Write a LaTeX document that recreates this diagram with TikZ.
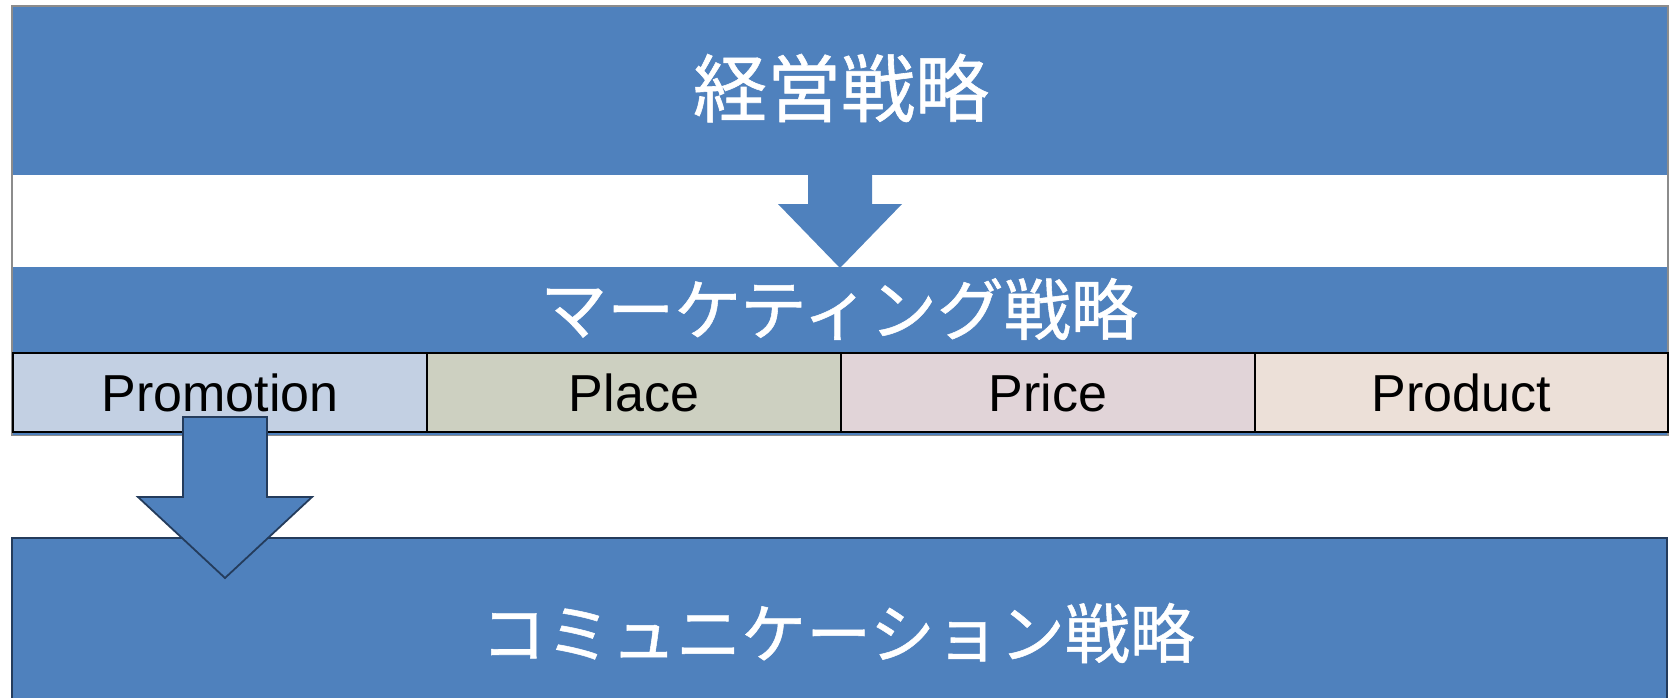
\documentclass[tikz,border=0pt]{standalone}
\usepackage{fontspec}
\setmainfont{Liberation Sans}
\newfontfamily\jpfont[FakeBold=0.8]{Noto Sans CJK JP}
\definecolor{ofblue}{RGB}{79,129,189}
\definecolor{navy}{RGB}{36,60,92}
\definecolor{framegray}{RGB}{140,140,140}
\definecolor{cpromo}{RGB}{195,208,227}
\definecolor{cplace}{RGB}{205,208,193}
\definecolor{cprice}{RGB}{225,212,216}
\definecolor{cprod}{RGB}{236,224,216}
\tikzset{
  band/.style={fill=ofblue, draw=none, inner sep=0pt, outer sep=0pt},
  cell/.style={draw=black, line width=2pt, inner sep=0pt, outer sep=0pt,
    minimum width=414pt, minimum height=79pt, font=\fontsize{52}{56}\selectfont},
  jptext/.style={text=white, inner sep=0pt},
  blockarrow/.style={fill=ofblue},
}
\begin{document}
\begin{tikzpicture}[x=1pt,y=-1pt]
\useasboundingbox (0,0) rectangle (1669,697);
\fill[white] (0,0) rectangle (1669,697);
% outer frame
\draw[framegray, line width=1.6pt] (12,6) rectangle (1668,435);
% top band
\node[band, minimum width=1654pt, minimum height=168pt, anchor=north west] (top) at (13,7) {};
\node[jptext, font=\jpfont\fontsize{74}{80}\selectfont] (toplabel) at (841,88) {経営戦略};
% marketing band
\node[band, minimum width=1654pt, minimum height=168pt, anchor=north west] (mkt) at (13,267) {};
\node[jptext, font=\jpfont\fontsize{67}{72}\selectfont] (mktlabel) at (839,309) {マーケティング戦略};
% arrow 1
\fill[blockarrow] (808,170) -- (872,170) -- (872,204) -- (902,204) -- (840,268) -- (778,204) -- (808,204) -- cycle;
% 4P cells
\node[cell, fill=cpromo, anchor=north west] (promo) at (13,353) {Promotion};
\node[cell, fill=cplace, anchor=north west] (place) at (427,353) {Place};
\node[cell, fill=cprice, anchor=north west] (price) at (841,353) {Price};
\node[cell, fill=cprod, anchor=north west, minimum width=413pt] (prod) at (1255,353) {Product};
% bottom band
\node[band, draw=navy, line width=1.8pt, minimum width=1655pt, minimum height=180pt, anchor=north west] (comm) at (12,538) {};
\node[jptext, font=\jpfont\fontsize{65}{70}\selectfont] (commlabel) at (838,633) {コミュニケーション戦略};
% arrow 2
\filldraw[blockarrow, draw=navy, line width=1.8pt, line join=miter] (183,417) -- (267,417) -- (267,497) -- (312,497) -- (225,578) -- (138,497) -- (183,497) -- cycle;
\end{tikzpicture}
\end{document}
